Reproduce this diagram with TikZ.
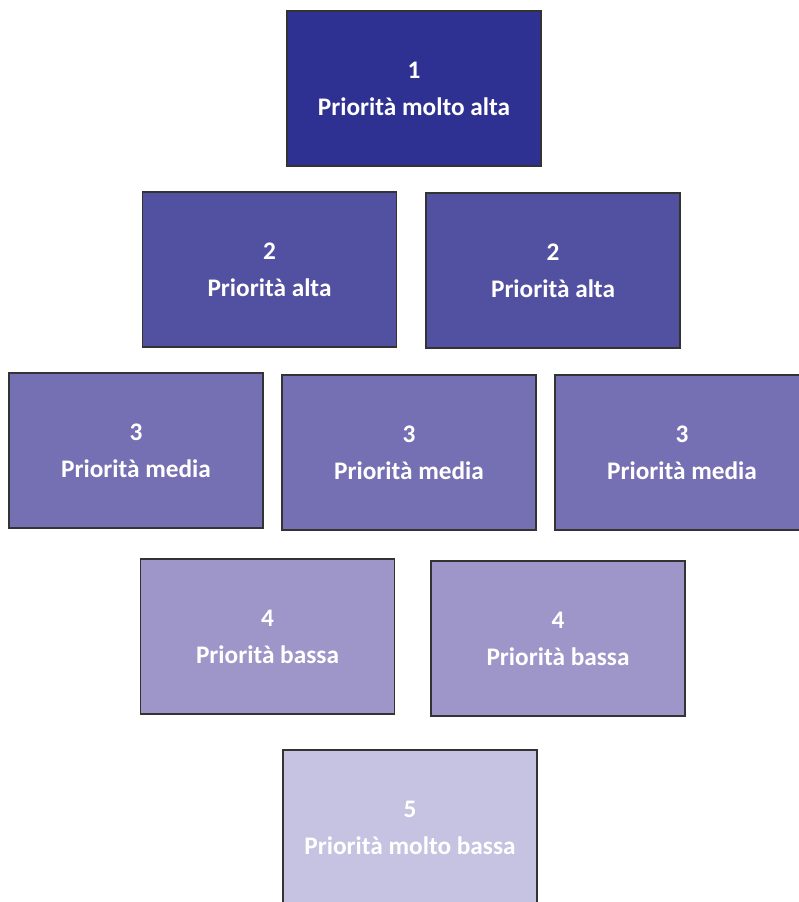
\documentclass[tikz,border=0pt]{standalone}
\usepackage{fontspec}
\setmainfont{Carlito}
\definecolor{c1}{HTML}{2E3192}
\definecolor{c2}{HTML}{5250A1}
\definecolor{c3}{HTML}{7570B3}
\definecolor{c4}{HTML}{9E96C8}
\definecolor{c5}{HTML}{C6C2E1}
\definecolor{edge}{HTML}{333333}
\begin{document}
\begin{tikzpicture}[x=1pt,y=-1pt,
  box/.style={draw=edge,line width=1.2pt,minimum width=254pt,minimum height=155pt,inner sep=0pt,
    text=white,font=\bfseries\fontsize{25.3}{37}\selectfont,align=center}]
\useasboundingbox (0,0) rectangle (799,902);
\clip (0,0) rectangle (799,902);
\node[box,fill=c1] (p1) at (414,88.5) {1\\Priorità molto alta};
\node[box,fill=c2] (p2a) at (269.5,269.5) {2\\Priorità alta};
\node[box,fill=c2] (p2b) at (553,270.5) {2\\Priorità alta};
\node[box,fill=c3] (p3a) at (136,450.5) {3\\Priorità media};
\node[box,fill=c3] (p3b) at (409,452.5) {3\\Priorità media};
\node[box,fill=c3] (p3c) at (682,452.5) {3\\Priorità media};
\node[box,fill=c4] (p4a) at (267.5,636.5) {4\\Priorità bassa};
\node[box,fill=c4] (p4b) at (558,638.5) {4\\Priorità bassa};
\node[box,fill=c5] (p5) at (410,827.5) {5\\Priorità molto bassa};
\end{tikzpicture}
\end{document}
